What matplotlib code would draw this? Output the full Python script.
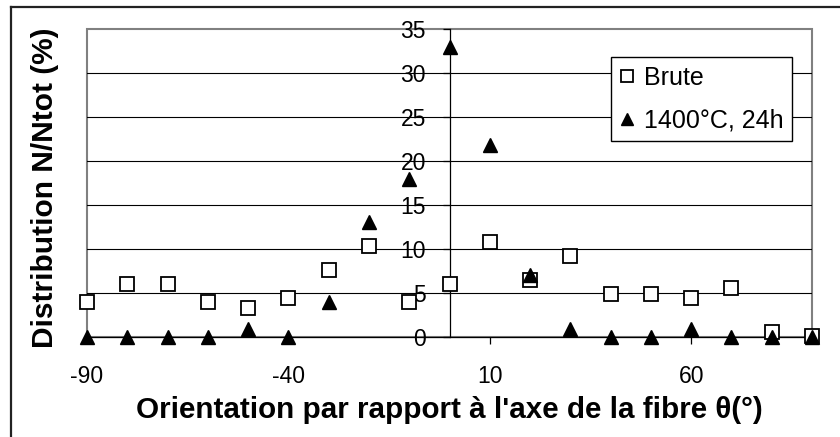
import matplotlib
matplotlib.use("Agg")
import matplotlib.pyplot as plt
from matplotlib.lines import Line2D
from matplotlib.patches import Rectangle

plt.rcParams['font.family'] = ['Liberation Sans', 'DejaVu Sans']
plt.rcParams['axes.unicode_minus'] = False

# orientation angles (deg) and distributions (%)
angles = [-90, -80, -70, -60, -50, -40, -30, -20, -10, 0,
          10, 20, 30, 40, 50, 60, 70, 80, 90]
brute = [4.0, 6.0, 6.0, 4.0, 3.3, 4.4, 7.6, 10.3, 4.0, 6.0,
         10.8, 6.5, 9.2, 4.9, 4.9, 4.4, 5.6, 0.6, 0.1]
traite = [0, 0, 0, 0, 0.9, 0, 4.0, 13.1, 18.0, 33.0,
          21.8, 7.0, 0.9, 0, 0, 0.9, 0, 0, 0]
x_ticks = [-90, -40, 10, 60]
y_ticks = [0, 5, 10, 15, 20, 25, 30, 35]

fig = plt.figure(figsize=(8.4, 4.37), dpi=100)
ax = fig.add_axes([87/840, 1 - 337/437, (812 - 87)/840, (337 - 29)/437])

ax.set_xlim(-90, 90)
ax.set_ylim(0, 35)

# gray frame of the plot area
ax.add_patch(Rectangle((0, 0), 1, 1, transform=ax.transAxes, fill=False,
                       edgecolor='#808080', linewidth=1.5, zorder=1, clip_on=False))
for s in ['top', 'right']:
    ax.spines[s].set_visible(False)
ax.spines['left'].set_position(('data', 0))
ax.spines['left'].set_color('black')
ax.spines['left'].set_linewidth(0.9)
ax.spines['bottom'].set_color('black')
ax.spines['bottom'].set_linewidth(0.9)

for yv in y_ticks[1:-1]:
    ax.axhline(yv, color='black', linewidth=0.8, zorder=1)

ax.set_xticks(x_ticks)
ax.set_yticks(y_ticks)
ax.tick_params(axis='x', direction='out', length=5, width=0.9, pad=15, labelsize=16.5)
ax.tick_params(axis='y', direction='out', length=5, width=0.9, pad=12, labelsize=16.5)

ax.plot(angles, brute, linestyle='none', marker='s', markersize=10,
        markerfacecolor='white', markeredgecolor='black', markeredgewidth=1.3,
        clip_on=False, zorder=3, label='Brute')
ax.plot(angles, traite, linestyle='none', marker='^', markersize=10,
        color='black', clip_on=False, zorder=4, label='1400°C, 24h')

leg = ax.legend(loc='upper left', bbox_to_anchor=(611/840, 1 - 57/437),
                bbox_transform=fig.transFigure, frameon=True, fancybox=False,
                edgecolor='black', framealpha=1, fontsize=18, markerscale=0.85,
                handlelength=0.6, handletextpad=0.35, borderpad=0.35,
                labelspacing=0.75, borderaxespad=0)
leg.get_frame().set_linewidth(1.0)

fig.text(45/840, 1 - 188/437, 'Distribution N/Ntot (%)', rotation=90,
         ha='center', va='center', fontsize=21.5, fontweight='bold')
fig.text(449/840, 1 - 410/437, "Orientation par rapport à l'axe de la fibre θ(°)",
         ha='center', va='center', fontsize=21.3, fontweight='bold')

# outer chart frame
fig.add_artist(Line2D([11/840, 11/840], [0, 1 - 7/437], transform=fig.transFigure,
                      color='#222222', linewidth=1.6))
fig.add_artist(Line2D([11/840, 1], [1 - 7/437, 1 - 7/437], transform=fig.transFigure,
                      color='#222222', linewidth=1.6))

fig.savefig('out.png', dpi=100)
